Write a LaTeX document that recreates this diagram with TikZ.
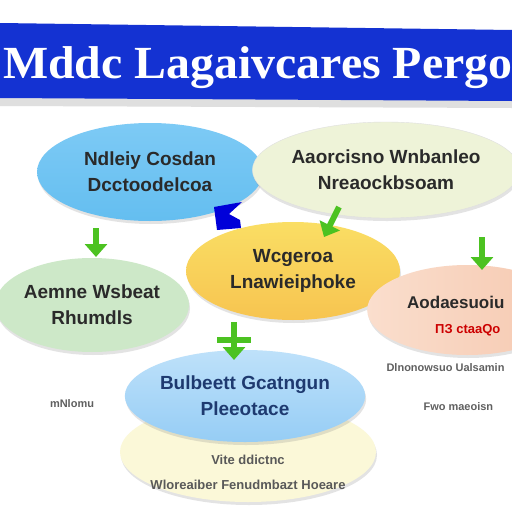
\documentclass[tikz,border=0pt]{standalone}
\usepackage{fontspec}
\setmainfont{Liberation Sans}
\newfontfamily\titlefont{Liberation Serif}
\usetikzlibrary{shapes.geometric,shadows,arrows.meta}
\definecolor{banner}{HTML}{1432D2}
\definecolor{arrowgreen}{HTML}{4CC221}
\definecolor{txtdark}{HTML}{2A2A2A}
\definecolor{navy}{HTML}{1E3A70}
\begin{document}
\begin{tikzpicture}[x=1pt,y=-1pt,
  bubble/.style={ellipse, inner sep=0pt, align=center, font=\fontsize{19}{26}\selectfont\bfseries, text=txtdark,
    drop shadow={opacity=0.22, shadow xshift=1pt, shadow yshift=-3pt}},
  garrow/.style={draw=arrowgreen, line width=6pt, -{Triangle[width=22pt,length=13pt]}},
  sidetext/.style={font=\fontsize{11}{13}\selectfont\bfseries, text=gray!75!black},
  paletext/.style={font=\fontsize{13}{15}\selectfont\bfseries, text=gray!70!black}]
\useasboundingbox (0,0) rectangle (512,512);
\fill[white] (0,0) rectangle (512,512);
% banner
\fill[gray!25] (0,97) -- (512,100) -- (512,108) -- (0,106) -- cycle;
\fill[banner] (0,23) -- (512,30) -- (512,101) -- (0,98) -- cycle;
\node[font=\titlefont\fontsize{46}{50}\selectfont\bfseries, text=white, anchor=base west, inner sep=0pt, xscale=1.04] (title) at (3,78) {Mddc Lagaivcares Pergo};
% ellipses
\node[bubble, minimum width=256pt, minimum height=100pt, fill={rgb,255:red,251;green,248;blue,216}] (e7) at (248,452) {};
\node[paletext] (t7a) at (e7.center) [yshift=-8pt] {Vite ddictnc};
\node[paletext] (t7b) at (e7.center) [yshift=-33pt] {Wloreaiber Fenudmbazt Hoeare};
\node[bubble, minimum width=234pt, minimum height=92pt, top color={rgb,255:red,190;green,225;blue,250}, bottom color={rgb,255:red,150;green,205;blue,245}, text=navy] (e6) at (245,396) {Bulbeett Gcatngun\\ Pleeotace};
\node[bubble, minimum width=226pt, minimum height=98pt, top color={rgb,255:red,125;green,202;blue,245}, bottom color={rgb,255:red,100;green,190;blue,240}] (e1) at (150,172) {Ndleiy Cosdan\\ Dcctoodelcoa};
\node[bubble, minimum width=234pt, minimum height=96pt, fill={rgb,255:red,238;green,243;blue,216}, draw=gray!25] (e2) at (386,170) {Aaorcisno Wnbanleo\\ Nreaockbsoam};
\node[bubble, minimum width=214pt, minimum height=98pt, top color={rgb,255:red,250;green,222;blue,100}, bottom color={rgb,255:red,247;green,196;blue,80}] (e3) at (293,271) {Wcgeroa\\ Lnawieiphoke};
\node[bubble, minimum width=194pt, minimum height=94pt, fill={rgb,255:red,205;green,232;blue,200}] (e4) at (92,305) {Aemne Wsbeat\\ Rhumdls};
\node[bubble, minimum width=200pt, minimum height=90pt, left color={rgb,255:red,250;green,222;blue,205}, right color={rgb,255:red,246;green,200;blue,175}, anchor=west] (e5) at (367,310) {};
\node[font=\fontsize{17}{20}\selectfont\bfseries, text=txtdark, anchor=base west, inner sep=1pt] (t5a) at (406,308) {Aodaesuoiu};
\node[font=\fontsize{13}{16}\selectfont\bfseries, text=red!80!black, anchor=base west, inner sep=1pt] (t5b) at (434,333) {ПЗ ctaaQo};
% side texts
\node[sidetext] (s1) at (72,404) {mNlomu};
\node[sidetext, anchor=west] (s2) at (383,368) {Dlnonowsuo Ualsamin};
\node[sidetext, anchor=west] (s3) at (420,407) {Fwo maeoisn};
% blue notch
\fill[blue!85!black] (214,207) -- (242,202) -- (229,214) -- (240,220) -- (241,228) -- (217,230) -- cycle;
% green arrows
\coordinate (a1s) at (96,228); \coordinate (a1e) at (96,257);
\coordinate (a2s) at (339,207); \coordinate (a2e) at (324,237);
\coordinate (a3s) at (482,237); \coordinate (a3e) at (482,270);
\coordinate (a4s) at (234,322); \coordinate (a4e) at (234,360);
\draw[garrow] (a1s) -- (a1e);
\draw[garrow] (a2s) -- (a2e);
\draw[garrow] (a3s) -- (a3e);
\draw[garrow] (a4s) -- (a4e);
\draw[draw=arrowgreen, line width=6pt] (217,340) -- (251,340);
\end{tikzpicture}
\end{document}
